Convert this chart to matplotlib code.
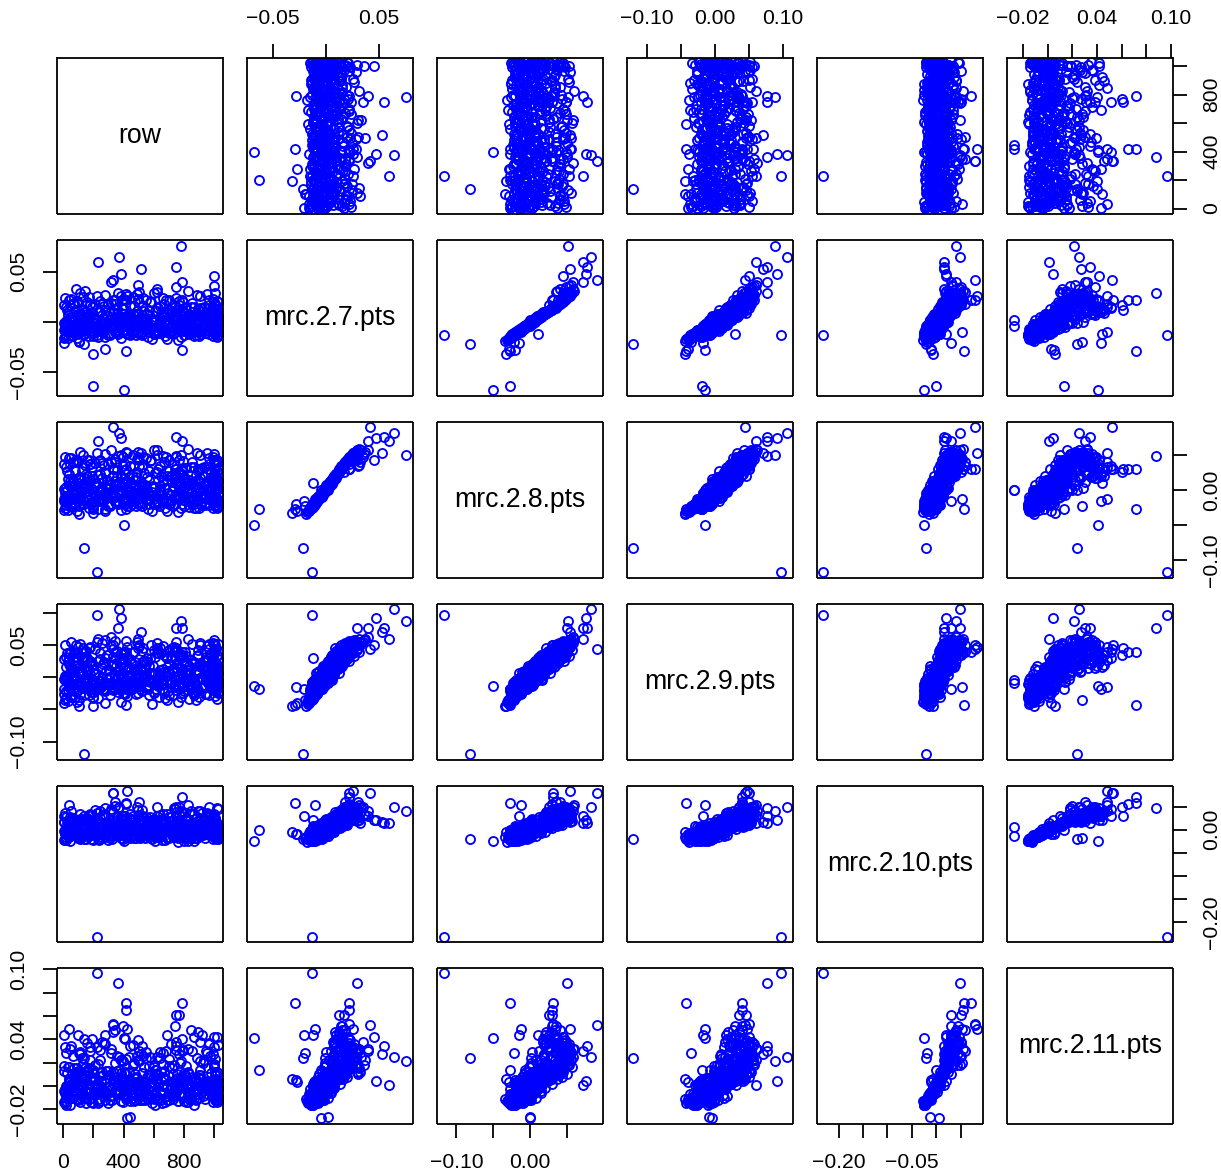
import matplotlib
matplotlib.use('Agg')
import matplotlib.pyplot as plt

plt.rcParams['font.family'] = ['Liberation Sans', 'DejaVu Sans']

# First the dense core (low cluster rising to the upper blob), then the outliers.
row = [
    3, 512, 105, 871, 340, 690, 1025, 228, 455, 765,
    60, 590, 940, 280, 15, 720, 385, 1010, 170, 830,
    480, 30, 655, 900, 130, 1020, 250, 800, 420, 560,
    8, 735, 310, 975, 195, 610, 90, 860, 445, 1005,
    365, 675, 20, 525, 950, 150, 780, 265, 1030, 405,
    45, 840, 600, 215, 995, 350, 700, 120, 915, 470,
    630, 5, 300, 885, 545, 75, 1015, 750, 185, 430,
    965, 240, 665, 35, 495, 815, 1000, 140, 575, 325,
    100, 710, 930, 395, 10, 620, 850, 275, 1025, 530,
    205, 760, 50, 460, 985, 645, 330, 110, 890, 565,
    1018, 415, 25, 795, 160, 680, 510, 945, 295, 70,
    740, 375, 1008, 125, 585, 905, 235, 440, 825, 12,
    655, 990, 180, 500, 55, 770, 360, 1022, 615, 255,
    875, 95, 435, 960, 725, 210, 540, 2, 820, 320,
    1012, 145, 695, 400, 925, 65, 595, 785, 285, 475,
    165, 855, 1002, 345, 40, 640, 745, 520, 220, 910,
    390, 755, 85, 975, 450, 600, 1016, 305, 175, 810,
    730, 115, 550, 880, 370, 18, 660, 245, 940, 485,
    765, 355, 135, 1004, 420, 570, 800, 200, 715, 900,
    410, 745, 380, 790, 260, 520, 960, 110, 625, 835,
    28, 490, 950, 335, 650, 190, 1028, 775, 80, 435,
    555, 1006, 290, 865, 150, 705, 42, 380, 920, 610,
    230, 805, 465, 1014, 125, 670, 330, 895, 15, 535,
    980, 270, 720, 62, 405, 845, 505, 1024, 175, 630,
    355, 6, 785, 580, 935, 210, 685, 1000, 95, 440,
    815, 315, 22, 550, 970, 155, 750, 470, 1018, 260,
    640, 88, 905, 395, 1010, 225, 575, 738, 35, 855,
    300, 995, 520, 130, 795, 415, 965, 68, 660, 245,
    1026, 460, 180, 885, 345, 600, 12, 770, 910, 495,
    700, 275, 1003, 110, 530, 825, 385, 50, 955, 620,
    16, 372, 728, 1021, 198, 548, 884, 72, 426, 792,
    1009, 238, 602, 958, 112, 478, 838, 32, 312, 668,
    942, 158, 522, 776, 1027, 292, 636, 48, 398, 748,
    868, 102, 458, 812, 1013, 218, 572, 928, 26, 342,
    698, 992, 128, 488, 848, 64, 408, 762, 1019, 252,
    616, 972, 168, 532, 888, 8, 362, 712, 1005, 208,
    562, 918, 82, 438, 802, 1023, 272, 626, 982, 142,
    508, 858, 38, 392, 742, 1011, 232, 586, 938, 118,
    448, 822, 1029, 282, 652, 54, 412, 772, 998, 192,
    542, 898, 92, 468, 832, 1017, 322, 676, 962, 152,
    502, 878, 22, 352, 732, 1007, 242, 596, 952, 78,
    422, 782, 1025, 262, 642, 44, 382, 752, 988, 202,
    552, 908, 122, 478, 842, 1015, 302, 662, 932, 162,
    518, 872, 58, 402, 722, 1001, 212, 566, 948, 98,
    452, 808, 1020, 332, 686, 36, 368, 758, 978, 188,
    225, 140, 400, 200, 195, 275, 780, 333, 373, 228,
    750, 513, 1000, 380, 790, 365, 790, 415, 770, 415,
    420, 445, 420, 330, 750, 690, 745, 895, 395, 345,
    410, 275, 35, 5, 155, 140, 505, 490, 1000, 1010,
    147, 620, 87, 173, 787, 320, 497, 104, 750, 100,
]
mrc_2_7 = [
    -.016, -.012, -.019, -.014, -.010, -.017, -.013, -.015, -.011, -.018,
    -.014, -.017, -.011, -.015, -.013, -.009, -.016, -.012, -.014, -.010,
    -.013, -.016, -.010, -.014, -.012, -.015, -.008, -.013, -.011, -.015,
    -.015, -.011, -.013, -.009, -.014, -.012, -.016, -.010, -.013, -.008,
    -.012, -.014, -.009, -.013, -.011, -.007, -.015, -.010, -.012, -.008,
    -.013, -.010, -.012, -.007, -.014, -.009, -.011, -.006, -.012, -.010,
    -.011, -.008, -.013, -.009, -.006, -.012, -.010, -.007, -.011, -.005,
    -.012, -.008, -.010, -.005, -.011, -.009, -.006, -.012, -.008, -.004,
    -.009, -.011, -.006, -.008, -.004, -.010, -.007, -.005, -.009, -.003,
    -.010, -.006, -.008, -.004, -.009, -.002, -.007, -.005, -.008, -.003,
    -.008, -.004, -.007, -.002, -.006, -.009, -.003, -.005, -.001, -.007,
    -.006, -.003, -.007, -.001, -.005, -.002, -.008, -.004, .000, -.006,
    -.005, -.001, -.004, .001, -.006, -.002, -.003, .002, -.005, .000,
    -.003, .001, -.004, .003, -.002, -.005, .002, -.001, .004, -.003,
    -.002, .002, -.003, .004, -.001, .005, .000, -.004, .003, .001,
    .000, .004, -.002, .005, .002, -.001, .006, .001, .003, .007,
    .001, .005, -.001, .007, .003, .000, .008, .002, .006, .004,
    .002, .007, .000, .009, .004, .001, .006, .010, .003, .008,
    .004, .008, .002, .010, .005, .012, .003, .007, .009, .006,
    .005, .010, .003, .012, .007, .004, .014, .008, .011, .006,
    .007, .011, .005, .013, .009, .015, .006, .010, .012, .008,
    .008, .013, .006, .015, .010, .012, .017, .009, .014, .011,
    .010, .014, .008, .016, .012, .018, .009, .013, .015, .011,
    .011, .016, .009, .018, .013, .015, .020, .012, .017, .014,
    .013, .017, .011, .020, .015, .018, .022, .014, .019, .016,
    .015, .019, .012, .022, .017, .020, .024, .016, .021, .018,
    .016, .021, .014, .023, .018, .026, .020, .017, .022, .019,
    .018, .023, .016, .025, .020, .028, .022, .019, .024, .021,
    .020, .025, .018, .027, .022, .029, .024, .021, .026, .023,
    .022, .027, .020, .029, .024, .031, .026, .023, .028, .033,
    -.013, -.010, -.012, -.009, -.011, -.008, -.013, -.010, -.012, -.009,
    -.012, -.009, -.011, -.008, -.010, -.007, -.012, -.009, -.011, -.008,
    -.011, -.008, -.010, -.007, -.009, -.006, -.011, -.008, -.010, -.007,
    -.010, -.007, -.009, -.006, -.008, -.005, -.010, -.007, -.009, -.006,
    -.009, -.006, -.008, -.005, -.007, -.004, -.009, -.006, -.008, -.005,
    -.008, -.005, -.007, -.004, -.006, -.003, -.008, -.005, -.007, -.004,
    -.007, -.004, -.006, -.003, -.005, -.002, -.007, -.004, -.006, -.003,
    -.006, -.003, -.005, -.002, -.004, -.001, -.006, -.003, -.005, -.002,
    -.004, -.001, -.003, .000, -.002, .001, -.004, -.001, -.003, .000,
    -.003, .000, -.002, .001, -.001, .002, -.003, .000, -.002, .001,
    -.001, .002, .000, .003, .001, .004, -.001, .002, .000, .003,
    .000, .003, .001, .004, .002, .005, .000, .003, .001, .004,
    .002, .005, .003, .006, .004, .007, .002, .005, .003, .006,
    .004, .007, .005, .008, .006, .009, .004, .007, .005, .008,
    .006, .009, .007, .010, .008, .011, .006, .009, .007, .010,
    -.0135, -.022, -.068, -.0635, -.032, -.027, .076, .042, .0645, .0595,
    .0545, .0525, .0455, .0475, .040, .029, .0217, -.029, .0167, .0217,
    -.0045, .0016, .026, .0217, .012, .010, .015, .012, .014, .018,
    .022, .012, -.010, -.021, .008, .010, .030, .028, .036, .029,
    .031, .030, .0325, .025, -.028, .040, .037, -.020, .035, -.012,
]
mrc_2_8 = [
    -.028, -.020, -.034, -.026, -.017, -.030, -.023, -.027, -.019, -.031,
    -.024, -.029, -.018, -.027, -.021, -.014, -.028, -.022, -.025, -.016,
    -.022, -.028, -.015, -.025, -.019, -.026, -.012, -.023, -.018, -.027,
    -.026, -.019, -.022, -.013, -.024, -.020, -.029, -.015, -.023, -.011,
    -.020, -.025, -.014, -.022, -.018, -.010, -.026, -.016, -.021, -.012,
    -.023, -.016, -.020, -.009, -.025, -.015, -.019, -.008, -.021, -.016,
    -.019, -.013, -.023, -.014, -.008, -.021, -.017, -.010, -.018, -.006,
    -.021, -.012, -.017, -.006, -.019, -.015, -.009, -.020, -.013, -.004,
    -.015, -.019, -.008, -.013, -.003, -.017, -.010, -.006, -.015, -.001,
    -.017, -.009, -.013, -.004, -.015, .001, -.011, -.007, -.014, -.002,
    -.013, -.005, -.011, .002, -.009, -.015, -.002, -.007, .004, -.011,
    -.010, -.002, -.012, .004, -.007, -.001, -.014, -.005, .007, -.009,
    -.007, .002, -.005, .006, -.009, .000, -.003, .008, -.007, .004,
    -.004, .005, -.006, .010, -.001, -.007, .008, .002, .012, -.003,
    -.001, .008, -.004, .012, .001, .014, .004, -.006, .009, .005,
    .003, .011, -.001, .014, .007, .001, .016, .005, .010, .018,
    .005, .013, .001, .017, .010, .003, .020, .007, .015, .011,
    .006, .016, .003, .022, .012, .005, .015, .024, .009, .019,
    .010, .019, .006, .024, .013, .027, .008, .016, .021, .014,
    .012, .024, .008, .028, .017, .010, .031, .019, .026, .015,
    .016, .026, .012, .030, .021, .034, .014, .023, .028, .019,
    .019, .029, .015, .034, .024, .027, .038, .021, .032, .025,
    .022, .032, .019, .036, .027, .040, .021, .030, .034, .025,
    .025, .036, .021, .040, .029, .034, .044, .027, .038, .031,
    .029, .037, .024, .043, .033, .039, .047, .031, .041, .035,
    .032, .041, .027, .046, .037, .043, .049, .035, .044, .039,
    .035, .044, .030, .048, .039, .053, .042, .037, .046, .041,
    .038, .047, .034, .051, .042, .055, .046, .040, .049, .044,
    .041, .050, .037, .053, .045, .057, .048, .043, .051, .047,
    .044, .052, .040, .055, .048, .059, .050, .046, .054, .058,
    -.025, -.018, -.023, -.015, -.021, -.013, -.026, -.017, -.022, -.014,
    -.023, -.016, -.020, -.012, -.018, -.010, -.024, -.015, -.019, -.013,
    -.021, -.014, -.018, -.010, -.016, -.008, -.022, -.013, -.017, -.011,
    -.019, -.012, -.016, -.008, -.014, -.006, -.020, -.011, -.015, -.009,
    -.017, -.010, -.014, -.006, -.012, -.004, -.018, -.009, -.013, -.007,
    -.015, -.008, -.012, -.004, -.010, -.002, -.016, -.007, -.011, -.005,
    -.013, -.006, -.010, -.002, -.008, .000, -.014, -.005, -.009, -.003,
    -.011, -.004, -.008, .000, -.006, .002, -.012, -.003, -.007, -.001,
    -.008, -.001, -.005, .003, -.003, .005, -.009, .000, -.004, .002,
    -.005, .002, -.002, .006, .000, .008, -.006, .003, -.001, .005,
    -.002, .005, .001, .009, .003, .011, -.003, .006, .002, .008,
    .001, .008, .004, .012, .006, .014, .000, .009, .005, .011,
    .004, .011, .007, .015, .009, .017, .003, .012, .008, .014,
    .007, .014, .010, .018, .012, .020, .006, .015, .011, .017,
    .010, .017, .013, .021, .015, .023, .009, .018, .014, .020,
    -.117, -.082, -.050, -.027, -.033, -.029, .051, .091, .082, .071,
    .0765, .054, .044, .075, .071, .0495, .031, -.027, .026, .030,
    .000, .000, .054, .031, .030, .020, .030, .028, .035, .040,
    .038, .025, -.012, -.015, .020, .018, .035, .045, .052, .044,
    .036, .050, .040, .044, -.020, .058, .055, -.022, .048, .010,
]
mrc_2_9 = [
    -.040, -.018, -.044, -.027, -.012, -.036, -.024, -.033, -.014, -.038,
    -.030, -.042, -.012, -.021, -.033, -.008, -.038, -.016, -.028, -.020,
    -.026, -.037, -.009, -.031, -.015, -.034, -.006, -.022, -.029, -.019,
    -.035, -.012, -.027, -.016, -.032, -.010, -.039, -.023, -.018, -.005,
    -.014, -.033, -.021, -.008, -.026, -.004, -.031, -.018, -.011, -.024,
    -.030, -.010, -.025, -.015, -.020, -.003, -.028, -.012, -.017, -.007,
    -.013, -.026, -.009, -.021, -.002, -.030, -.016, -.005, -.023, -.011,
    -.027, -.006, -.019, -.012, -.024, -.001, -.015, -.028, -.008, -.018,
    -.020, -.004, -.016, -.024, .002, -.011, -.019, -.007, -.013, .003,
    -.023, -.014, -.002, -.017, -.008, .005, -.020, -.010, -.004, -.012,
    -.006, -.018, .001, -.013, -.016, .006, -.009, -.003, -.011, .008,
    -.015, .003, -.007, -.012, .007, -.001, -.018, -.009, .011, -.004,
    -.002, -.011, .005, -.006, .010, -.014, .002, .013, -.008, -.001,
    -.008, .008, .000, -.004, .012, -.010, .015, -.002, .006, .017,
    .004, -.006, .010, .001, .014, -.003, .018, .007, -.001, .012,
    .009, -.002, .016, .004, .020, .011, -.004, .013, .006, .022,
    .000, .014, .018, .008, .024, .003, .016, .012, .026, .006,
    .013, .005, .021, .010, .027, .016, .008, .029, .018, .003,
    .019, .009, .025, .014, .031, .006, .022, .012, .033, .017,
    .011, .028, .020, .034, .015, .024, .030, .009, .037, .018,
    .026, .013, .032, .021, .038, .017, .028, .035, .023, .015,
    .030, .018, .034, .024, .041, .020, .037, .027, .016, .032,
    .025, .039, .021, .044, .029, .035, .019, .042, .031, .026,
    .036, .023, .046, .030, .040, .027, .048, .033, .022, .038,
    .041, .028, .034, .050, .025, .044, .031, .039, .047, .029,
    .033, .048, .037, .026, .051, .030, .043, .040, .035, .053,
    .045, .032, .050, .038, .042, .055, .029, .047, .036, .052,
    .034, .054, .041, .046, .031, .056, .044, .039, .049, .037,
    .052, .040, .047, .033, .057, .043, .050, .035, .054, .045,
    .042, .058, .036, .051, .046, .060, .038, .055, .048, .053,
    -.033, -.019, -.027, -.011, -.030, -.015, -.036, -.022, -.013, -.025,
    -.029, -.016, -.023, -.009, -.026, -.012, -.034, -.020, -.010, -.024,
    -.026, -.013, -.021, -.007, -.023, -.010, -.031, -.017, -.008, -.020,
    -.024, -.011, -.018, -.004, -.021, -.008, -.028, -.015, -.006, -.019,
    -.021, -.008, -.016, -.002, -.018, -.005, -.026, -.012, -.003, -.015,
    -.018, -.005, -.013, .001, -.016, -.003, -.023, -.010, .000, -.012,
    -.015, -.002, -.011, .003, -.013, .000, -.020, -.007, .002, -.009,
    -.013, .000, -.008, .006, -.010, .003, -.017, -.005, .005, -.007,
    -.009, .004, -.004, .010, -.006, .007, -.013, -.001, .009, -.003,
    -.006, .007, -.001, .013, -.003, .010, -.010, .002, .012, .000,
    -.002, .011, .003, .017, .001, .014, -.006, .006, .016, .004,
    .001, .014, .006, .020, .004, .017, -.003, .009, .019, .007,
    .005, .018, .010, .024, .008, .021, .001, .013, .023, .011,
    .009, .022, .014, .028, .012, .025, .005, .017, .027, .015,
    .013, .026, .018, .032, .016, .029, .009, .021, .031, .019,
    .097, -.120, -.014, -.019, -.044, -.040, .088, .044, .106, .060,
    .076, .070, .050, .092, .076, .076, .040, -.043, .035, .040,
    -.004, -.009, .047, .050, .045, .030, .040, .035, .030, .040,
    .040, .030, -.015, -.018, .025, .030, .050, .055, .058, .050,
    .040, .045, .050, .045, -.015, .062, .060, -.035, .055, .030,
]
mrc_2_10 = [
    -.022, -.008, -.015, -.024, .002, -.018, -.011, -.020, -.004, -.026,
    -.012, -.021, .000, -.016, -.023, -.006, -.019, -.010, -.014, -.025,
    -.017, -.007, -.022, -.013, .003, -.020, -.009, -.024, -.015, -.003,
    -.021, -.012, -.018, .004, -.008, -.025, -.014, -.002, -.019, -.010,
    -.006, -.023, -.016, -.011, .005, -.020, -.013, -.004, -.018, -.008,
    -.024, -.009, -.014, .001, -.021, -.005, -.017, -.012, .006, -.019,
    -.015, -.003, -.022, -.010, -.018, .007, -.013, -.006, -.020, -.001,
    -.011, -.023, -.007, -.016, .003, -.019, -.004, -.014, .008, -.021,
    -.017, -.002, -.012, -.020, -.008, .006, -.015, -.005, -.018, .002,
    -.009, -.019, .004, -.013, -.006, -.016, .009, -.011, -.003, -.014,
    -.004, -.015, -.009, .007, -.012, -.001, -.017, .003, -.007, .010,
    -.013, -.006, .005, -.010, -.002, .012, -.015, -.004, .008, -.008,
    .001, -.011, .007, -.005, .011, -.009, .002, -.013, .014, -.003,
    -.007, .004, .013, -.002, -.010, .009, -.004, .016, .000, -.012,
    .006, -.005, .011, .002, .018, -.008, .008, -.001, .014, .004,
    -.003, .010, .017, -.006, .006, .021, .001, .012, -.004, .015,
    .008, -.001, .013, .020, .003, .024, -.005, .010, .017, .006,
    .012, .002, .022, .007, .015, -.002, .018, .026, .005, .011,
    .004, .016, .009, .025, .001, .019, .013, .007, .028, .010,
    .014, .006, .021, .011, .030, .004, .017, .024, .008, .013,
    .018, .009, .027, .003, .015, .032, .007, .020, .012, .025,
    .010, .023, .015, .034, .006, .019, .028, .013, .036, .017,
    .021, .012, .030, .008, .024, .016, .038, .011, .027, .019,
    .014, .033, .018, .026, .009, .040, .022, .015, .031, .012,
    .028, .016, .036, .011, .024, .042, .019, .030, .013, .034,
    .020, .044, .014, .027, .033, .017, .038, .023, .046, .015,
    .032, .018, .041, .024, .012, .036, .028, .048, .020, .035,
    .016, .030, .043, .022, .038, .026, .050, .018, .034, .040,
    .045, .021, .033, .028, .052, .019, .037, .031, .024, .042,
    .027, .047, .023, .035, .030, .054, .026, .041, .036, .049,
    -.020, -.010, -.016, -.004, -.022, -.012, -.018, -.007, -.014, -.001,
    -.019, -.009, -.015, -.003, -.021, -.011, -.017, -.006, -.013, .000,
    -.018, -.008, -.014, -.002, -.020, -.010, -.016, -.005, -.012, .001,
    -.017, -.007, -.013, -.001, -.019, -.009, -.015, -.004, -.011, .002,
    -.016, -.006, -.012, .000, -.018, -.008, -.014, -.003, -.010, .003,
    -.015, -.005, -.011, .001, -.017, -.007, -.013, -.002, -.009, .004,
    -.014, -.004, -.010, .002, -.016, -.006, -.012, -.001, -.008, .005,
    -.013, -.003, -.009, .003, -.015, -.005, -.011, .000, -.007, .006,
    -.011, -.001, -.007, .005, -.013, -.003, -.009, .002, -.005, .008,
    -.009, .001, -.005, .007, -.011, -.001, -.007, .004, -.003, .010,
    -.007, .003, -.003, .009, -.009, .001, -.005, .006, -.001, .012,
    -.005, .005, -.001, .011, -.007, .003, -.003, .008, .001, .014,
    -.003, .007, .001, .013, -.005, .005, -.001, .010, .003, .016,
    -.001, .009, .003, .015, -.003, .007, .001, .012, .005, .018,
    .001, .011, .005, .017, -.001, .009, .003, .014, .007, .020,
    -.232, -.020, -.024, .000, -.006, -.010, .041, .080, .049, .015,
    .015, .017, .020, .020, .030, .048, .071, .057, .050, .055,
    .006, -.013, .083, .080, .030, .035, .045, .040, .030, .060,
    .030, .030, .053, .030, .025, .030, .059, .050, .035, .025,
    .020, .030, .015, .020, -.010, .040, .032, -.018, .050, .020,
]
mrc_2_11 = [
    -.014, -.008, -.011, -.016, -.005, -.012, -.009, -.015, -.003, -.013,
    -.010, -.015, -.002, -.012, -.016, -.006, -.013, -.008, -.011, -.014,
    -.012, -.007, -.015, -.010, -.001, -.014, -.006, -.013, -.009, -.003,
    -.015, -.009, -.012, -.001, -.007, -.016, -.011, -.004, -.013, -.008,
    -.006, -.014, -.010, -.012, .001, -.015, -.009, -.005, -.013, -.007,
    -.016, -.008, -.011, -.002, -.014, -.006, -.012, -.010, .002, -.013,
    -.011, -.004, -.015, -.007, -.012, .001, -.009, -.005, -.014, -.002,
    -.008, -.013, -.006, -.011, .003, -.014, -.004, -.010, .000, -.012,
    -.012, -.003, -.009, -.014, -.005, .004, -.011, -.007, -.013, .001,
    -.007, -.013, .002, -.010, -.004, -.012, .005, -.008, -.002, -.011,
    -.005, -.011, -.008, .006, -.010, -.001, -.012, .002, -.006, .008,
    -.009, -.004, .004, -.007, -.001, .009, -.011, -.003, .012, -.006,
    .000, -.008, .006, -.004, .010, -.007, .003, -.010, .014, -.002,
    -.005, .003, .012, -.001, -.008, .007, -.003, .017, .001, -.009,
    .005, -.004, .009, .002, .020, -.006, .007, .000, .013, .003,
    -.002, .008, .016, -.004, .004, .024, .001, .011, -.003, .014,
    .006, -.001, .011, .026, .002, .018, -.002, .009, .022, .005,
    .010, .002, .029, .005, .014, .000, .019, .031, .004, .008,
    .003, .013, .007, .033, .001, .017, .011, .006, .036, .009,
    .012, .005, .022, .008, .038, .003, .015, .027, .007, .010,
    .016, .007, .030, .002, .012, .040, .005, .020, .009, .025,
    .008, .023, .013, .042, .004, .017, .032, .011, .044, .014,
    .019, .009, .035, .006, .024, .013, .046, .008, .028, .016,
    .011, .037, .015, .026, .006, .048, .021, .012, .033, .009,
    .026, .013, .040, .008, .022, .018, .030, .016, .010, .034,
    .017, .028, .011, .024, .036, .014, .031, .020, .042, .012,
    .029, .015, .038, .021, .009, .033, .025, .018, .016, .030,
    .013, .027, .034, .019, .031, .023, .037, .015, .028, .022,
    .035, .018, .030, .024, .020, .016, .033, .027, .021, .039,
    .023, .036, .019, .029, .026, .032, .022, .034, .028, .025,
    -.013, -.006, -.011, -.002, -.015, -.008, -.012, -.004, -.010, .000,
    -.012, -.005, -.010, -.001, -.014, -.007, -.011, -.003, -.009, .001,
    -.011, -.004, -.009, .000, -.013, -.006, -.010, -.002, -.008, .002,
    -.010, -.003, -.008, .001, -.012, -.005, -.009, -.001, -.007, .003,
    -.009, -.002, -.007, .002, -.011, -.004, -.008, .000, -.006, .004,
    -.008, -.001, -.006, .003, -.010, -.003, -.007, .001, -.005, .005,
    -.007, .000, -.005, .004, -.009, -.002, -.006, .002, -.004, .006,
    -.006, .001, -.004, .005, -.008, -.001, -.005, .003, -.003, .007,
    -.005, .002, -.003, .006, -.007, .000, -.004, .004, -.002, .008,
    -.004, .003, -.002, .007, -.006, .001, -.003, .005, -.001, .009,
    -.003, .004, -.001, .008, -.005, .002, -.002, .006, .000, .010,
    -.002, .005, .000, .009, -.004, .003, -.001, .007, .001, .011,
    -.001, .006, .001, .010, -.003, .004, .000, .008, .002, .012,
    .000, .007, .002, .011, -.002, .005, .001, .009, .003, .013,
    .001, .008, .003, .012, -.001, .006, .002, .010, .004, .014,
    .097, .024, .041, .0135, .006, .003, .021, .0525, .025, .001,
    .034, .027, .042, .004, .030, .088, .0715, .0715, .0605, .065,
    -.0275, -.027, .0485, .053, .061, .0435, .051, .046, .051, .048,
    .0405, .0435, .0485, .0435, .037, .040, .030, .026, .018, .012,
    .015, .010, .012, .015, .005, .032, .022, .028, .038, .044,
]

labels = ['row', 'mrc.2.7.pts', 'mrc.2.8.pts', 'mrc.2.9.pts', 'mrc.2.10.pts', 'mrc.2.11.pts']
columns = [row, mrc_2_7, mrc_2_8, mrc_2_9, mrc_2_10, mrc_2_11]
limits = [(-40, 1060), (-.0741, .0821), (-.1258, .0985), (-.129, .1147), (-.2435, .0957), (-.0328, .1016)]

# tick positions and which of them carry a label
ticks = [
    [0, 200, 400, 600, 800, 1000],
    [-.05, 0, .05],
    [-.10, -.05, 0, .05],
    [-.10, -.05, 0, .05, .10],
    [-.20, -.15, -.10, -.05, 0, .05],
    [-.02, 0, .02, .04, .06, .08, .10],
]
tick_labels = [
    ['0', '', '400', '', '800', ''],
    ['\u22120.05', '', '0.05'],
    ['\u22120.10', '', '0.00', ''],
    ['\u22120.10', '', '0.00', '', '0.10'],
    ['\u22120.20', '', '', '\u22120.05', '', ''],
    ['\u22120.02', '', '', '0.04', '', '', '0.10'],
]
# the y axes label other ticks than the x axes for some variables
y_tick_labels = {
    0: tick_labels[0],
    1: tick_labels[1],
    2: tick_labels[2],
    3: ['\u22120.10', '', '', '0.05', ''],
    4: ['\u22120.20', '', '', '', '0.00', ''],
    5: tick_labels[5],
}

W, H = 1221, 1173
fig = plt.figure(figsize=(W / 100, H / 100), dpi=100)

for i in range(6):
    for j in range(6):
        left = 57.3 + j * 190
        top = 57.5 + i * 182
        ax = fig.add_axes([left / W, 1 - (top + 156.7) / H, 165.6 / W, 156.7 / H])
        ax.set_xlim(limits[j])
        ax.set_ylim(limits[i])
        for s in ax.spines.values():
            s.set_linewidth(1.3)
            s.set_capstyle('butt')
        ax.tick_params(length=10, width=1.3, labelsize=15.2, pad=11)
        ax.set_xticks([])
        ax.set_yticks([])
        if i == j:
            ax.text(.5, .497, labels[i], transform=ax.transAxes, ha='center', va='center', fontsize=19.2)
        else:
            ax.plot(columns[j], columns[i], 'o', mfc='none', mec='#0000ff', ms=6.5, mew=1.35)
        if i == 0 and j % 2 == 1:
            ax.xaxis.tick_top()
            ax.set_xticks(ticks[j], tick_labels[j])
        if i == 5 and j % 2 == 0:
            ax.set_xticks(ticks[j], tick_labels[j])
        if j == 0 and i % 2 == 1:
            ax.set_yticks(ticks[i], y_tick_labels[i], rotation=90, va='center')
        if j == 5 and i % 2 == 0:
            ax.yaxis.tick_right()
            ax.set_yticks(ticks[i], y_tick_labels[i], rotation=90, va='center')

fig.savefig('out.png', dpi=100)
